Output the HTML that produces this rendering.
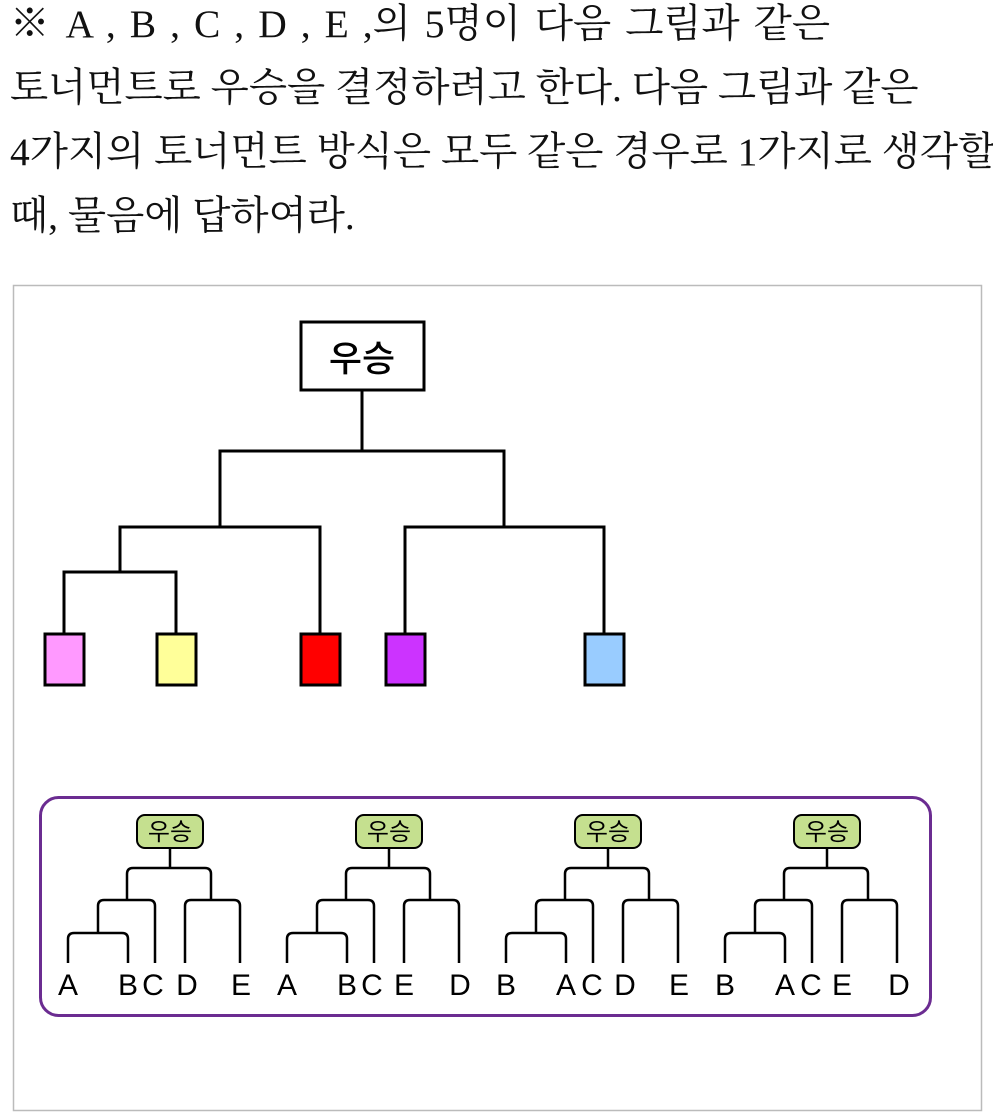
<!DOCTYPE html>
<html><head><meta charset="utf-8"><style>
body{margin:0;background:#fff;width:993px;height:1116px;overflow:hidden;position:relative}
.t{position:absolute;left:10px;font-family:"Liberation Serif","Noto Serif CJK KR","Noto Serif CJK SC",serif;font-size:39.5px;line-height:64px;color:#111;white-space:nowrap}
.j{text-align:justify;text-align-last:justify;white-space:normal}
svg{position:absolute;left:0;top:0}
</style></head><body>
<div class="t j" style="top:-8px;width:820px">※ A , B , C , D , E ,의 5명이 다음 그림과 같은</div>
<div class="t" style="top:56px">토너먼트로 우승을 결정하려고 한다. 다음 그림과 같은</div>
<div class="t" style="top:120px">4가지의 토너먼트 방식은 모두 같은 경우로 1가지로 생각할</div>
<div class="t" style="top:184px">때, 물음에 답하여라.</div>
<svg width="993" height="1116" xmlns="http://www.w3.org/2000/svg">
<rect x="13.5" y="285.5" width="968" height="825" fill="none" stroke="#bbb" stroke-width="1.5"/>
<g stroke="#000" stroke-width="3" fill="none">
<rect x="301" y="322" width="123" height="68" fill="#fff"/>
<path d="M362 390V451M220 527V451H504V527M120 572V527H320V634M405 634V527H604V634M64 634V572H176V634"/>
<rect x="45" y="634" width="39" height="51" fill="#FF99FF"/>
<rect x="157" y="634" width="39" height="51" fill="#FFFF99"/>
<rect x="301" y="634" width="39" height="51" fill="#FF0000"/>
<rect x="386" y="634" width="39" height="51" fill="#CC33FF"/>
<rect x="585" y="634" width="39" height="51" fill="#99CCFF"/>
</g>
<text x="362" y="371" font-family="Liberation Sans,'Noto Sans CJK KR',sans-serif" font-size="36" text-anchor="middle" font-weight="500">우승</text>
<rect x="40.5" y="797.5" width="890" height="218" rx="18" fill="none" stroke="#6B2C91" stroke-width="3"/>
<defs>
<g id="tr">
<rect x="137" y="815" width="66" height="33" rx="8" fill="#C5E08F" stroke="#000" stroke-width="2"/>
<text x="170" y="840" font-family="Liberation Sans,'Noto Sans CJK KR',sans-serif" font-size="24" text-anchor="middle">우승</text>
<g stroke="#000" stroke-width="2.5" fill="none" stroke-linejoin="round">
<path d="M170 848V868"/>
<path d="M127 900V874Q127 868 133 868H205Q211 868 211 874V900"/>
<path d="M98 933V906Q98 900 104 900H149Q155 900 155 906V963"/>
<path d="M185 963V906Q185 900 191 900H234Q240 900 240 906V963"/>
<path d="M68 963V939Q68 933 74 933H122Q128 933 128 939V963"/>
</g>
</g>
</defs>
<use href="#tr"/>
<use href="#tr" x="219"/>
<use href="#tr" x="438"/>
<use href="#tr" x="657"/>
<g font-family="Liberation Sans,sans-serif" font-size="30" text-anchor="middle" fill="#000">
<text x="68" y="995">A</text><text x="128" y="995">B</text><text x="153" y="995">C</text><text x="187" y="995">D</text><text x="241" y="995">E</text>
<text x="287" y="995">A</text><text x="347" y="995">B</text><text x="372" y="995">C</text><text x="404" y="995">E</text><text x="460" y="995">D</text>
<text x="506" y="995">B</text><text x="566" y="995">A</text><text x="592" y="995">C</text><text x="625" y="995">D</text><text x="679" y="995">E</text>
<text x="725" y="995">B</text><text x="785" y="995">A</text><text x="811" y="995">C</text><text x="842" y="995">E</text><text x="899" y="995">D</text>
</g>
</svg>
</body></html>
